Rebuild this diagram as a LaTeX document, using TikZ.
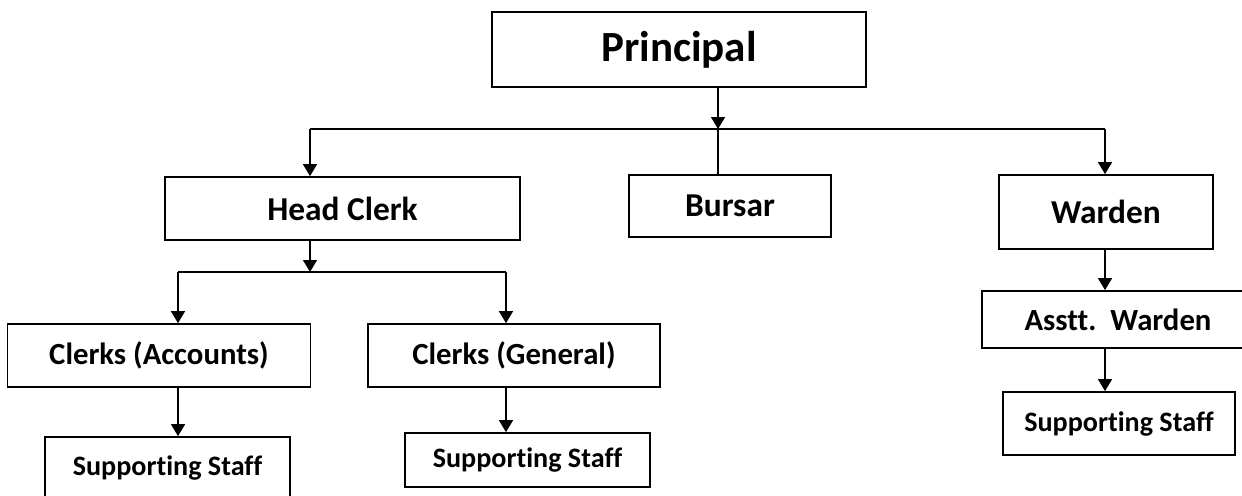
\documentclass[tikz,border=0pt]{standalone}
\usepackage{fontspec}
\setmainfont{Carlito}[Ligatures={NoCommon}]
\usetikzlibrary{arrows.meta, positioning}

\begin{document}
\begin{tikzpicture}[
		x=0.2mm, y=-0.2mm,
		box/.style={draw, line width=1pt, inner sep=0pt, text=black},
		top/.style={font=\bfseries\fontsize{24.5}{28}\selectfont},
		mid/.style={font=\bfseries\fontsize{19}{22}\selectfont},
		low/.style={font=\bfseries\fontsize{17.5}{20}\selectfont},
		staff/.style={font=\bfseries\fontsize{16}{19}\selectfont},
		link/.style={draw, line width=0.8pt},
		arr/.style={link, -{Triangle[length=2.4mm, width=2.8mm]}}
		]
		
		\useasboundingbox (0,0) rectangle (1242,495);
		\clip (0,0) rectangle (1242,495);
		
		% Boxes
		\node[box, top, minimum width=74.8mm, minimum height=15mm] (principal) at (679,49.5) {Principal};
		
		\node[box, mid, minimum width=71mm, minimum height=12.6mm] (headclerk) at (342.5,208.5) {Head Clerk};
		\node[box, mid, minimum width=40.4mm, minimum height=12.4mm] (bursar) at (730,206) {Bursar};
		\node[box, mid, minimum width=42.8mm, minimum height=14.8mm] (warden) at (1106,212) {Warden};
		
		\node[box, low, minimum width=60.6mm, minimum height=12.6mm] (accounts) at (159,355.5) {Clerks (Accounts)};
		\node[box, low, minimum width=58.4mm, minimum height=12.6mm] (general) at (514,355.5) {Clerks (General)};
		\node[box, low, minimum width=54.4mm, minimum height=11.4mm] (asstt) at (1118,319.5) {Asstt.\ \ Warden};
		
		\node[box, staff, minimum width=49mm, minimum height=12.6mm] (staffa) at (167.5,468.5) {Supporting Staff};
		\node[box, staff, minimum width=49mm, minimum height=10.8mm] (staffg) at (527.5,460) {Supporting Staff};
		\node[box, staff, minimum width=46.4mm, minimum height=12.6mm] (staffw) at (1119,423.5) {Supporting Staff};
		
		% Branch points
		\coordinate (pmid) at (718,129);
		\coordinate (pleft) at (310,129);
		\coordinate (pright) at (1105,129);
		\coordinate (hmid) at (310,272);
		\coordinate (hleft) at (178,272);
		\coordinate (hright) at (506,272);
		
		% Connectors
		\draw[arr] (principal.south -| pmid) -- (pmid);
		\draw[link] (pleft) -- (pright);
		\draw[arr] (pleft) -- (headclerk.north -| pleft);
		\draw[link] (pmid) -- (bursar.north -| pmid);
		\draw[arr] (pright) -- (warden.north -| pright);
		
		\draw[arr] (headclerk.south -| hmid) -- (hmid);
		\draw[link] (hleft) -- (hright);
		\draw[arr] (hleft) -- (accounts.north -| hleft);
		\draw[arr] (hright) -- (general.north -| hright);
		
		\draw[arr] (accounts.south -| hleft) -- (staffa.north -| hleft);
		\draw[arr] (general.south -| hright) -- (staffg.north -| hright);
		\draw[arr] (warden.south -| pright) -- (asstt.north -| pright);
		\draw[arr] (asstt.south -| pright) -- (staffw.north -| pright);
		
	\end{tikzpicture}
\end{document}
